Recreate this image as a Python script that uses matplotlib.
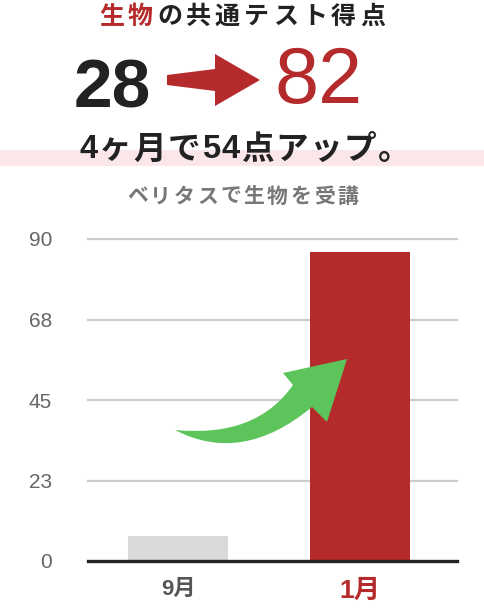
import matplotlib
matplotlib.use("Agg")
import matplotlib.pyplot as plt
from matplotlib.patches import Rectangle, Polygon, PathPatch
from matplotlib.path import Path

# chart data
months = ["9月", "1月"]
scores = [7.0, 86.4]
bar_colors = ["#d9d9d9", "#b52b2b"]
ytick_values = [0, 22.5, 45, 67.5, 90]
ytick_labels = ["0", "23", "45", "68", "90"]

# headline text
title_red = "生物"
title_rest = "の共通テスト得点"
score_before = "28"
score_after = "82"
gain_text = "4ヶ月で54点アップ。"
subtitle = "ベリタスで生物を受講"

W, H = 484, 608
RED = "#b52b2b"
DARK = "#222222"
JP = ["Liberation Sans", "Noto Sans CJK JP"]


def fx(x):
    return x / W


def fy(y):
    return 1 - y / H


def spaced_text(fig, chars, xc, y, spacing, colors, fontsize, **kw):
    # place characters one by one so that letter spacing can be added
    r = fig.canvas.get_renderer()
    em = fontsize * 100 / 72
    objs, advs = [], []
    for ch, c in zip(chars, colors):
        t = fig.text(0, fy(y), ch, color=c, ha="center", va="center",
                     family=JP, fontsize=fontsize, **kw)
        if ord(ch) > 0x2E80:
            adv = em
        else:
            adv = t.get_window_extent(r).width
        objs.append(t)
        advs.append(adv)
    total = sum(advs) + spacing * (len(chars) - 1)
    x = xc - total / 2
    for t, a in zip(objs, advs):
        t.set_x(fx(x + a / 2))
        x += a + spacing


fig = plt.figure(figsize=(W / 100, H / 100), dpi=100)

# title
title = title_red + title_rest
title_cols = [RED] * len(title_red) + [DARK] * len(title_rest)
spaced_text(fig, title, 242, 17, 4, title_cols, 18, weight="bold")

# big numbers with red arrow
fig.text(fx(74), fy(107), score_before, color=DARK, fontsize=50,
         weight="bold", family="Liberation Sans", ha="left", va="baseline")
fig.text(fx(274), fy(103), score_after, color=RED, fontsize=57,
         family="Liberation Sans", ha="left", va="baseline")
arrow_pts = [(167, 75), (215, 69), (215, 54), (260, 80), (215, 106),
             (215, 91), (167, 85)]
fig.add_artist(Polygon([(fx(x), fy(y)) for x, y in arrow_pts], closed=True,
                       transform=fig.transFigure, color=RED, lw=0))

# pink highlight and gain line
fig.add_artist(Rectangle((0, fy(166)), 1, 16 / H, transform=fig.transFigure,
                         color="#fbe6ea", lw=0, zorder=0))
spaced_text(fig, gain_text, 245, 150, 1.6, [DARK] * len(gain_text), 23.5,
            weight="bold", zorder=2)

# subtitle
spaced_text(fig, subtitle, 242.5, 197, 2.5, ["#777777"] * len(subtitle),
            15, weight="bold")

# bar chart
ax = fig.add_axes([fx(88), fy(561), 369 / W, 322 / H])
x = list(range(len(months)))
ax.bar(x, scores, width=0.55, color=bar_colors, zorder=2)
ax.set_xlim(-0.495, 1.533)
ax.set_ylim(0, 90)
for v in ytick_values[1:]:
    ax.axhline(v, color="#cccccc", lw=1.6, zorder=1, clip_on=False)
ax.axhline(0, color=DARK, lw=2.4, zorder=3, clip_on=False)
for s in ax.spines.values():
    s.set_visible(False)

ax.set_yticks(ytick_values)
ax.set_yticklabels(ytick_labels, family="Liberation Sans", fontsize=15,
                   color="#666666")
ax.set_xticks(x)
ax.set_xticklabels(months, family=JP)
ax.tick_params(axis="y", length=0, pad=26)
ax.tick_params(axis="x", length=0, pad=13)
lbls = ax.get_xticklabels()
lbls[0].set_color("#555555")
lbls[0].set_fontsize(16)
lbls[0].set_weight("bold")
lbls[1].set_color(RED)
lbls[1].set_fontsize(19)
lbls[1].set_weight("bold")

# green curved arrow
g = [(175, 430), (256, 438), (293, 385), (283, 373), (347, 359),
     (327, 422), (312, 407), (242, 465), (175, 430), (175, 430)]
codes = [Path.MOVETO, Path.CURVE3, Path.CURVE3, Path.LINETO, Path.LINETO,
         Path.LINETO, Path.LINETO, Path.CURVE3, Path.CURVE3, Path.CLOSEPOLY]
green = Path([(fx(a), fy(b)) for a, b in g], codes)
fig.add_artist(PathPatch(green, transform=fig.transFigure,
                         facecolor="#5cc45a", lw=0, zorder=5))

fig.savefig("out.png", dpi=100)
